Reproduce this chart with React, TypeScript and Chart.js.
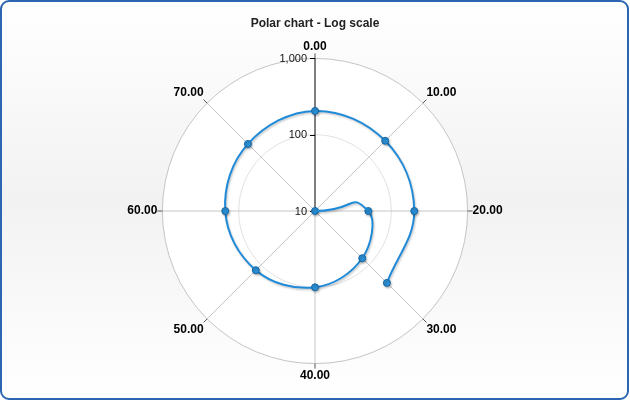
import React, { useEffect, useRef } from 'react';
import { Chart, registerables, RadarController } from 'chart.js';

// Radar controller that can draw just a sub-range (possibly wrapping past the last label)
// of its dataset, while the neighbouring values still shape the spline tangents.
class SpiralRadarController extends (RadarController as any) {
  static id = 'spiralRadar';
  update(mode: any) {
    super.update(mode);
    const line: any = (this as any)._cachedMeta.dataset;
    const range = (this as any).getDataset().drawRange;
    if (line && range) {
      Object.defineProperty(line, 'segments', {
        configurable: true,
        get: () => [{ start: range[0], end: range[1], loop: false }],
      });
      line._path = undefined;
    }
  }
}

Chart.register(...registerables, SpiralRadarController as any);

// ---- data ----
const chartTitle = 'Polar chart - Log scale';
const angleLabels = ['0.00', '10.00', '20.00', '30.00', '40.00', '50.00', '60.00', '70.00'];
const angleStep = 10;
// spiral series: x (angle value) and y (log-scale value)
const spiralX = [10, 20, 30, 40, 50, 60, 70, 80, 90, 100, 110];
const spiralValues = [10, 50, 75, 100, 125, 150, 175, 205, 200, 200, 215];
const radialTicks = [10, 100, 1000];

// the spiral is longer than one turn, so it is drawn in pieces (x ranges):
// [data from, data to, draw from, draw to, markers from, markers to, tension]
const spiralPieces: [number, number, number, number, number, number, number][] = [
  [10, 30, 10, 20, 0, -1, 0.8], // leaving the centre
  [10, 80, 20, 70, 10, 70, 0.375], // first turn
  [60, 110, 70, 110, 80, 110, 0.375], // second turn
];

const FONT = '"Liberation Sans", Arial, sans-serif';
const LINE_COLOR = '#1f8ad8';

const n = angleLabels.length;
const idxOf = (x: number) => Math.round(x / angleStep) % n;

function pieceData(from: number, to: number) {
  const arr: (number | null)[] = Array(n).fill(null);
  spiralX.forEach((x, i) => {
    if (x >= from && x <= to) arr[idxOf(x)] = Math.log10(spiralValues[i]);
  });
  return arr;
}

function markerSet(from: number, to: number) {
  const s = new Set<number>();
  spiralX.forEach((x) => {
    if (x >= from && x <= to) s.add(idxOf(x));
  });
  return s;
}

const decorPlugin = {
  id: 'polarDecor',
  beforeDatasetsDraw(chart: any) {
    const s = chart.scales.r;
    const ctx = chart.ctx;
    ctx.save();
    // angular tick marks on the outer circle
    ctx.strokeStyle = '#555';
    ctx.lineWidth = 1;
    for (let i = 0; i < angleLabels.length; i++) {
      const a = s.getPointPosition(i, s.drawingArea);
      const b = s.getPointPosition(i, s.drawingArea + 5);
      ctx.beginPath();
      ctx.moveTo(a.x, a.y);
      ctx.lineTo(b.x, b.y);
      ctx.stroke();
    }
    // radial axis ticks and labels
    ctx.strokeStyle = '#000';
    ctx.fillStyle = '#111';
    ctx.font = '11px ' + FONT;
    ctx.textAlign = 'right';
    ctx.textBaseline = 'middle';
    radialTicks.forEach((t) => {
      const y = s.yCenter - s.getDistanceFromCenterForValue(Math.log10(t));
      ctx.beginPath();
      ctx.moveTo(s.xCenter - 5, Math.round(y) + 0.5);
      ctx.lineTo(s.xCenter, Math.round(y) + 0.5);
      ctx.stroke();
      ctx.fillText(t.toLocaleString('en-US'), s.xCenter - 8, y + 0.5);
    });
    ctx.restore();
    ctx.save();
    ctx.shadowColor = 'rgba(0,0,0,0.22)';
    ctx.shadowOffsetX = 1;
    ctx.shadowOffsetY = 1.5;
    ctx.shadowBlur = 2;
  },
  afterDatasetsDraw(chart: any) {
    chart.ctx.restore();
  },
};

export default function App() {
  const ref = useRef<HTMLCanvasElement | null>(null);

  useEffect(() => {
    if (!ref.current) return;
    const datasets = spiralPieces.map(([df, dt, wf, wt, mf, mt, tension]) => {
      const marks = markerSet(mf, mt);
      return {
        data: pieceData(df, dt),
        drawRange: [idxOf(wf), idxOf(wt)],
        borderColor: LINE_COLOR,
        borderWidth: 2,
        fill: false,
        spanGaps: false,
        tension,
        pointRadius: (c: any) => (marks.has(c.dataIndex) ? 3.5 : 0),
        pointBackgroundColor: '#2b8fd3',
        pointBorderColor: '#1767a6',
        pointBorderWidth: 1,
        pointHoverRadius: 4,
      };
    });
    const chart = new Chart(ref.current, {
      type: 'spiralRadar' as any,
      data: { labels: angleLabels, datasets: datasets as any },
      options: {
        animation: false,
        responsive: false,
        devicePixelRatio: 1,
        layout: { padding: { top: 0, bottom: 18, left: 0, right: 0 } },
        plugins: {
          legend: { display: false },
          tooltip: { enabled: false },
          title: {
            display: true,
            text: chartTitle,
            color: '#222',
            font: { family: FONT, size: 12, weight: 'bold' },
            padding: { top: 16, bottom: 8.6 },
          },
        },
        scales: {
          r: {
            type: 'radialLinear',
            min: Math.log10(radialTicks[0]),
            max: Math.log10(radialTicks[radialTicks.length - 1]),
            startAngle: 0,
            backgroundColor: '#ffffff',
            grid: {
              circular: true,
              lineWidth: 1,
              color: (c: any) => (c.index === radialTicks.length - 1 ? '#c4c4c4' : '#e2e2e2'),
            },
            angleLines: {
              display: true,
              lineWidth: 1,
              color: (c: any) => (c.index === 0 ? '#000000' : '#c6c6c6'),
            },
            ticks: { display: false, stepSize: 1 },
            pointLabels: {
              display: true,
              color: '#000',
              padding: 5,
              font: { family: FONT, size: 12, weight: 'bold' },
            },
          },
        },
      } as any,
      plugins: [decorPlugin],
    });
    return () => chart.destroy();
  }, []);

  return (
    <div style={{ position: 'absolute', left: 0, top: 0, width: 630, height: 401 }}>
      <div
        style={{
          position: 'absolute',
          left: 0,
          top: 0,
          width: 629,
          height: 400,
          boxSizing: 'border-box',
          border: '2px solid #2c66b2',
          borderRadius: 9,
          background: 'linear-gradient(#ffffff 0%, #f2f2f2 50%, #ffffff 100%)',
        }}
      />
      <canvas
        ref={ref}
        width={630}
        height={401}
        style={{ position: 'absolute', left: 0, top: 0, display: 'block' }}
      />
    </div>
  );
}
